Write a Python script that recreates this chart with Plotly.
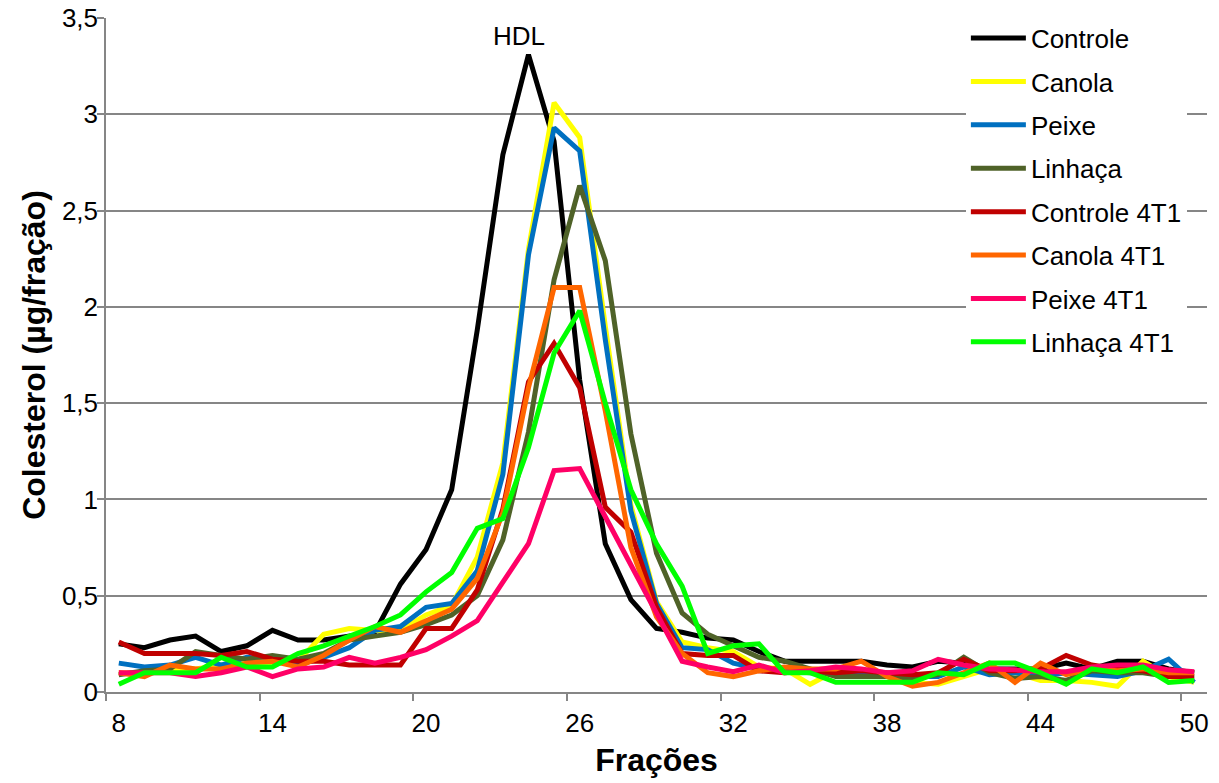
import plotly.graph_objects as go

fracoes = list(range(8, 51))

controle = [0.25, 0.23, 0.27, 0.29, 0.21, 0.24, 0.32, 0.27, 0.27, 0.29, 0.31,
            0.56, 0.74, 1.05, 1.88, 2.79, 3.31, 2.86, 1.62, 0.77, 0.48, 0.33,
            0.31, 0.28, 0.27, 0.21, 0.16, 0.16, 0.16, 0.16, 0.14, 0.13, 0.16,
            0.15, 0.12, 0.12, 0.12, 0.15, 0.12, 0.16, 0.16, 0.12, 0.10]
canola = [0.10, 0.10, 0.12, 0.12, 0.14, 0.15, 0.15, 0.16, 0.30, 0.33, 0.32,
          0.32, 0.40, 0.45, 0.70, 1.19, 2.30, 3.06, 2.88, 1.90, 0.97, 0.47,
          0.26, 0.23, 0.21, 0.13, 0.12, 0.04, 0.11, 0.10, 0.08, 0.05, 0.04,
          0.08, 0.12, 0.10, 0.06, 0.06, 0.05, 0.03, 0.16, 0.08, 0.05]
peixe = [0.15, 0.13, 0.14, 0.18, 0.14, 0.18, 0.17, 0.14, 0.18, 0.23, 0.32,
         0.34, 0.44, 0.46, 0.63, 1.13, 2.27, 2.93, 2.81, 1.83, 0.94, 0.46,
         0.23, 0.22, 0.15, 0.12, 0.11, 0.10, 0.10, 0.10, 0.09, 0.08, 0.08,
         0.13, 0.09, 0.10, 0.08, 0.10, 0.09, 0.08, 0.11, 0.17, 0.05]
linhaca = [0.09, 0.11, 0.12, 0.21, 0.19, 0.17, 0.19, 0.17, 0.20, 0.27, 0.29,
           0.31, 0.35, 0.40, 0.50, 0.79, 1.35, 2.14, 2.63, 2.24, 1.34, 0.72,
           0.41, 0.30, 0.24, 0.18, 0.16, 0.12, 0.08, 0.08, 0.08, 0.07, 0.09,
           0.18, 0.10, 0.07, 0.08, 0.06, 0.11, 0.10, 0.10, 0.08, 0.08]
controle_4t1 = [0.26, 0.20, 0.20, 0.20, 0.19, 0.21, 0.17, 0.16, 0.16, 0.14, 0.14,
                0.14, 0.33, 0.33, 0.53, 0.95, 1.61, 1.81, 1.58, 0.96, 0.83, 0.44,
                0.20, 0.19, 0.19, 0.11, 0.10, 0.11, 0.10, 0.11, 0.10, 0.09, 0.10,
                0.17, 0.11, 0.11, 0.12, 0.19, 0.14, 0.12, 0.11, 0.08, 0.08]
canola_4t1 = [0.10, 0.08, 0.14, 0.12, 0.12, 0.15, 0.16, 0.13, 0.19, 0.27, 0.34,
              0.31, 0.37, 0.43, 0.59, 0.93, 1.58, 2.10, 2.10, 1.46, 0.75, 0.39,
              0.20, 0.10, 0.08, 0.11, 0.13, 0.12, 0.12, 0.16, 0.08, 0.03, 0.05,
              0.10, 0.15, 0.05, 0.15, 0.09, 0.12, 0.11, 0.12, 0.10, 0.10]
peixe_4t1 = [0.10, 0.10, 0.10, 0.08, 0.10, 0.13, 0.08, 0.12, 0.13, 0.18, 0.15,
             0.18, 0.22, 0.29, 0.37, 0.57, 0.77, 1.15, 1.16, 0.91, 0.66, 0.40,
             0.16, 0.13, 0.105, 0.14, 0.10, 0.11, 0.13, 0.12, 0.10, 0.11, 0.17,
             0.14, 0.12, 0.115, 0.105, 0.105, 0.13, 0.14, 0.14, 0.115, 0.105]
linhaca_4t1 = [0.04, 0.10, 0.10, 0.10, 0.18, 0.13, 0.13, 0.20, 0.24, 0.29, 0.34,
               0.40, 0.52, 0.62, 0.85, 0.90, 1.27, 1.76, 1.98, 1.50, 1.05, 0.77,
               0.55, 0.20, 0.24, 0.25, 0.10, 0.10, 0.05, 0.05, 0.05, 0.05, 0.10,
               0.09, 0.15, 0.15, 0.10, 0.04, 0.12, 0.10, 0.13, 0.05, 0.06]

series_names = ["Controle", "Canola", "Peixe", "Linhaça",
                "Controle 4T1", "Canola 4T1", "Peixe 4T1", "Linhaça 4T1"]
series_values = [controle, canola, peixe, linhaca,
                 controle_4t1, canola_4t1, peixe_4t1, linhaca_4t1]
series_colors = ["#000000", "#FFFF00", "#0070C0", "#4F6228",
                 "#C00000", "#FF6600", "#FF0066", "#00FF00"]

x_ticks = [8, 14, 20, 26, 32, 38, 44, 50]

FONT = "Liberation Sans, Arial, sans-serif"
GRID = "#868686"

fig = go.Figure()
for name, vals, col in zip(series_names, series_values, series_colors):
    fig.add_trace(go.Scatter(
        x=fracoes, y=vals, mode="lines", name=name, legendgroup=name,
        line=dict(color=col, width=5),
    ))

fig.add_annotation(
    x=24, y=max(controle), text="HDL", showarrow=False,
    yanchor="bottom", xshift=-9, yshift=2,
    font=dict(family=FONT, size=26, color="black"),
)

fig.update_layout(
    width=1219, height=783,
    margin=dict(l=106, r=12, t=18, b=91, autoexpand=False),
    paper_bgcolor="white", plot_bgcolor="white",
    separators=",.",
    font=dict(family=FONT, color="black"),
    showlegend=True,
    legend=dict(
        x=0.781, y=1.005, xanchor="left", yanchor="top",
        bgcolor="white", font=dict(family=FONT, size=26, color="black"),
        tracegroupgap=6.6, itemwidth=55,
    ),
    xaxis=dict(
        range=[7.5, 50.5], tickmode="array", tickvals=x_ticks,
        ticks="", showgrid=False, zeroline=False, automargin=False,
        showline=True, linecolor=GRID, linewidth=1.5,
        ticklabelstandoff=7,
        tickfont=dict(family=FONT, size=26, color="black"),
        minor=dict(tickmode="linear", tick0=7.5, dtick=6, ticks="outside",
                   ticklen=7, tickcolor=GRID, tickwidth=1.5, showgrid=False),
        title=dict(text="<b>Frações</b>", font=dict(family=FONT, size=32, color="black"),
                   standoff=12),
    ),
    yaxis=dict(
        range=[0, 3.5], tickmode="linear", tick0=0, dtick=0.5,
        ticks="outside", ticklen=7, tickcolor=GRID, tickwidth=1.5,
        showgrid=True, gridcolor=GRID, gridwidth=1.5, zeroline=False,
        showline=True, linecolor=GRID, linewidth=1.5, automargin=False,
        ticklabelstandoff=-6,
        tickfont=dict(family=FONT, size=26, color="black"),
        title=dict(text="<b>Colesterol (µg/fração)</b>",
                   font=dict(family=FONT, size=32, color="black"), standoff=7),
    ),
)

fig.write_html("out.html")
